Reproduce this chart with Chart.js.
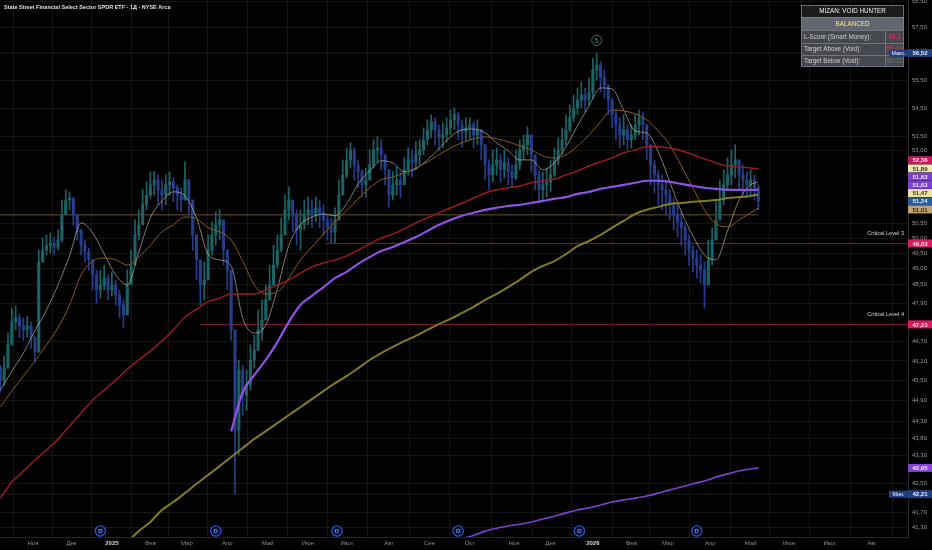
<!DOCTYPE html>
<html>
<head>
<meta charset="utf-8">
<script src="https://cdn.jsdelivr.net/npm/chart.js@4.4.1/dist/chart.umd.min.js"></script>
<style>
  html, body { margin: 0; padding: 0; background: #000; }
  #xlfChart { display: block; background: #000; }
</style>
</head>
<body>
<canvas id="xlfChart" width="932" height="550"></canvas>
<script>
// Month ticks: session index of the first trading day of each month (0 = 1 Nov 2024)
const monthDays = [0, 20, 41, 61, 80, 101, 122, 143, 163, 185, 206, 227, 250, 269, 291, 311, 330, 352, 373, 393, 414, 436];
const monthLabels = ['Ноя', 'Дек', '2025', 'Фев', 'Мар', 'Апр', 'Май', 'Июн', 'Июл', 'Авг', 'Сен', 'Окт', 'Ноя', 'Дек', '2026', 'Фев', 'Мар', 'Апр', 'Май', 'Июн', 'Июл', 'Авг'];

// Price axis labels (log scale)
const yTicks = [58.5, 57.5, 55.5, 54.5, 53.5, 53.0, 50.5, 50.0, 49.5, 49.0, 48.5, 47.9, 46.7, 46.1, 45.5, 44.9, 44.3, 43.8, 43.3, 42.5, 41.7, 41.3];

// Candles: one every 2 sessions starting at session -17
const firstDay = -17;
const dayStep = 2;
const firstOpen = 45.90;
const closes = [
  45.52, 45.88, 46.59, 47.31, 47.43, 47.18, 47.06, 47.18, 46.81, 46.37,
  49.22, 49.61, 49.77, 49.84, 49.71, 49.94, 50.78, 51.28, 51.35, 50.78,
  50.28, 49.77, 49.55, 49.29, 48.80, 48.32, 48.48, 48.70, 48.32, 48.48,
  48.16, 47.84, 47.53, 48.48, 49.12, 50.11, 50.45, 51.12, 51.45, 51.80,
  51.97, 51.63, 51.45, 51.80, 51.90, 51.70, 51.45, 51.28, 51.97, 51.28,
  50.11, 49.29, 48.48, 48.64, 49.61, 50.11, 50.45, 50.61, 49.61, 48.96,
  47.06, 44.04, 45.82, 45.07, 45.37, 46.13, 46.43, 47.06, 47.37, 48.00,
  48.48, 49.12, 49.61, 50.11, 50.95, 51.28, 50.78, 50.28, 50.45, 50.78,
  50.95, 50.78, 51.02, 50.85, 50.61, 50.35, 50.21, 50.61, 51.45, 52.14,
  52.66, 53.01, 52.49, 52.25, 51.80, 51.97, 52.49, 53.01, 53.08, 52.84,
  52.32, 51.45, 51.80, 51.97, 51.80, 52.32, 52.66, 52.59, 52.84, 53.01,
  53.37, 53.72, 54.01, 53.72, 53.44, 53.54, 53.79, 54.08, 54.26, 53.90,
  53.65, 53.79, 53.90, 53.54, 53.72, 53.19, 52.49, 52.14, 52.49, 52.66,
  52.32, 52.56, 52.25, 52.04, 52.49, 53.01, 53.19, 53.54, 52.84, 52.14,
  51.63, 51.80, 51.90, 52.14, 52.66, 53.01, 53.37, 53.72, 54.15, 54.50,
  54.79, 54.97, 54.79, 55.08, 55.89, 56.07, 55.60, 55.34, 54.79, 54.26,
  53.90, 53.54, 53.72, 53.37, 53.54, 53.90, 54.15, 53.90, 53.19, 52.49,
  52.14, 51.80, 51.63, 51.45, 51.12, 50.78, 50.55, 50.35, 49.94, 49.61,
  49.35, 49.12, 48.96, 48.48, 49.29, 49.94, 50.61, 51.28, 51.80, 52.14,
  52.49, 52.66, 52.14, 51.97, 51.80, 51.97, 51.70, 51.24
];
const highs = [
  45.97, 46.25, 46.96, 47.74, 47.81, 47.56, 47.43, 47.49, 47.31, 46.87,
  49.61, 50.01, 50.11, 50.18, 50.04, 50.28, 51.28, 51.63, 51.56, 51.28,
  50.78, 50.28, 49.94, 49.68, 49.29, 48.96, 48.96, 49.12, 48.80, 48.90,
  48.64, 48.32, 48.00, 48.96, 49.61, 50.61, 50.95, 51.63, 51.90, 52.25,
  52.25, 52.14, 51.97, 52.14, 52.25, 52.04, 51.80, 51.70, 52.59, 51.80,
  50.95, 49.94, 49.12, 49.22, 50.11, 50.55, 50.88, 50.95, 50.45, 49.45,
  48.80, 44.92, 46.13, 45.97, 45.82, 46.59, 46.90, 47.68, 48.00, 48.48,
  49.12, 49.77, 50.11, 50.68, 51.45, 51.73, 51.28, 50.95, 50.95, 51.28,
  51.38, 51.28, 51.38, 51.28, 51.12, 50.78, 50.68, 51.02, 51.97, 52.66,
  53.08, 53.26, 53.08, 52.66, 52.32, 52.38, 53.01, 53.37, 53.47, 53.37,
  52.84, 52.32, 52.25, 52.42, 52.25, 52.73, 53.08, 53.01, 53.30, 53.37,
  53.79, 54.08, 54.26, 54.15, 53.90, 53.97, 54.15, 54.43, 54.50, 54.33,
  54.08, 54.15, 54.15, 54.01, 54.08, 53.72, 53.19, 52.66, 53.01, 53.08,
  52.84, 53.01, 52.73, 52.49, 53.01, 53.37, 53.54, 53.83, 53.54, 52.84,
  52.32, 52.25, 52.38, 52.66, 53.08, 53.44, 53.79, 54.26, 54.61, 54.97,
  55.23, 55.45, 55.23, 55.60, 56.33, 56.52, 56.19, 55.89, 55.34, 54.86,
  54.43, 54.15, 54.26, 53.90, 53.90, 54.26, 54.43, 54.36, 53.79, 53.19,
  52.66, 52.32, 52.14, 51.97, 51.63, 51.35, 51.12, 50.88, 50.45, 50.11,
  49.77, 49.61, 49.45, 49.22, 49.94, 50.35, 51.28, 51.97, 52.32, 52.73,
  53.01, 53.19, 52.66, 52.49, 52.25, 52.32, 52.14, 51.80
];
const lows = [
  45.16, 45.37, 46.07, 46.74, 47.06, 46.81, 46.74, 46.84, 46.49, 46.07,
  46.37, 49.22, 49.45, 49.51, 49.45, 49.61, 49.87, 50.88, 50.95, 50.45,
  49.94, 49.45, 49.22, 48.96, 48.32, 47.90, 48.06, 48.32, 48.00, 48.13,
  47.84, 47.43, 47.12, 48.00, 48.64, 49.45, 49.94, 50.61, 50.95, 51.35,
  51.45, 51.12, 50.95, 51.12, 51.45, 51.22, 50.95, 50.88, 51.28, 50.78,
  49.61, 48.64, 47.84, 48.00, 48.96, 49.45, 49.77, 49.94, 49.12, 48.32,
  46.74, 42.21, 43.32, 44.48, 44.62, 45.22, 45.88, 46.43, 46.74, 47.37,
  48.00, 48.64, 49.03, 49.55, 50.21, 50.61, 50.21, 49.77, 49.61, 50.28,
  50.45, 50.35, 50.55, 50.35, 50.11, 49.94, 49.84, 49.84, 50.78, 51.45,
  52.04, 52.38, 51.97, 51.70, 51.38, 51.38, 51.97, 52.38, 52.59, 52.32,
  51.80, 51.05, 51.28, 51.45, 51.35, 51.80, 52.14, 52.07, 52.32, 52.49,
  52.84, 53.19, 53.44, 53.19, 53.01, 53.08, 53.30, 53.54, 53.72, 53.37,
  53.12, 53.30, 53.37, 53.08, 53.19, 52.66, 51.97, 51.63, 51.90, 52.14,
  51.87, 52.04, 51.80, 51.70, 51.97, 52.32, 52.66, 52.84, 52.25, 51.63,
  51.18, 51.28, 51.38, 51.56, 52.07, 52.49, 52.84, 53.19, 53.65, 54.01,
  54.26, 54.50, 54.36, 54.61, 54.86, 55.52, 55.08, 54.86, 54.26, 53.79,
  53.37, 53.08, 53.19, 53.01, 53.08, 53.37, 53.54, 53.37, 52.66, 51.80,
  51.52, 51.12, 50.95, 50.78, 50.61, 50.28, 50.04, 49.77, 49.45, 49.12,
  48.90, 48.70, 48.54, 47.74, 48.48, 49.12, 49.94, 50.61, 51.12, 51.63,
  51.80, 52.04, 51.63, 51.45, 51.35, 51.45, 51.28, 50.95
];

// Moving averages, read every 3rd candle (last point = last candle)
const maRed = [
  42.10, 42.55, 42.86, 43.17, 43.46, 43.78, 44.16, 44.54, 44.92, 45.22,
  45.52, 45.85, 46.13, 46.40, 46.71, 47.06, 47.46, 47.71, 47.94, 48.06,
  48.19, 48.19, 48.19, 48.32, 48.48, 48.64, 48.86, 49.06, 49.19, 49.29,
  49.42, 49.61, 49.81, 50.01, 50.14, 50.31, 50.51, 50.68, 50.85, 51.02,
  51.18, 51.35, 51.52, 51.63, 51.70, 51.76, 51.87, 51.94, 52.00, 52.14,
  52.28, 52.45, 52.59, 52.73, 52.91, 53.01, 53.12, 53.12, 53.08, 52.98,
  52.84, 52.70, 52.56, 52.45, 52.42, 52.38, 52.36
];
const maPurple = [
  null, null, null, null, null, null, null, null, null, null,
  null, null, null, null, null, null, null, null, null, null,
  44.00, 45.16, 45.67, 46.13, 46.68, 47.31, 47.84, 48.13, 48.41, 48.70,
  48.90, 49.16, 49.38, 49.58, 49.71, 49.87, 50.04, 50.24, 50.45, 50.61,
  50.75, 50.85, 50.95, 51.02, 51.08, 51.12, 51.18, 51.25, 51.32, 51.38,
  51.49, 51.56, 51.66, 51.73, 51.80, 51.87, 51.94, 51.94, 51.90, 51.83,
  51.76, 51.70, 51.66, 51.63, 51.63, 51.63, 51.63
];
const maOlive = [
  null, null, null, null, null, null, null, null, null, null,
  null, 40.90, 41.19, 41.44, 41.77, 41.99, 42.24, 42.50, 42.75, 43.00,
  43.26, 43.52, 43.78, 44.01, 44.24, 44.48, 44.71, 44.95, 45.19, 45.43,
  45.64, 45.88, 46.13, 46.34, 46.53, 46.71, 46.87, 47.06, 47.24, 47.40,
  47.59, 47.78, 48.00, 48.19, 48.41, 48.64, 48.90, 49.09, 49.25, 49.48,
  49.74, 49.91, 50.11, 50.35, 50.58, 50.81, 50.95, 51.05, 51.15, 51.18,
  51.22, 51.25, 51.28, 51.35, 51.38, 51.42, 51.47
];
const maBeige = [
  45.22, 45.79, 46.34, 47.03, 47.68, 48.48, 49.42, 50.51, 50.18, 49.48,
  48.80, 48.48, 49.55, 50.68, 51.25, 51.56, 51.42, 50.68, 49.48, 49.29,
  49.09, 47.43, 46.96, 47.21, 48.35, 49.77, 50.45, 50.71, 50.81, 50.75,
  51.15, 51.83, 52.28, 52.63, 52.56, 52.25, 52.35, 52.66, 53.05, 53.47,
  53.72, 53.75, 53.61, 53.26, 52.98, 52.66, 52.66, 52.32, 52.56, 53.12,
  53.86, 54.58, 55.23, 55.19, 54.43, 53.68, 53.61, 52.94, 51.90, 50.88,
  50.08, 49.45, 49.29, 50.24, 51.28, 51.80, 51.89
];
const maOrange = [
  44.71, 45.19, 45.64, 46.10, 46.59, 47.12, 47.84, 48.80, 49.25, 49.35,
  49.29, 49.12, 49.38, 49.77, 50.21, 50.45, 50.71, 50.65, 50.35, 50.21,
  49.94, 49.25, 48.48, 48.19, 48.25, 48.70, 49.29, 49.71, 50.14, 50.55,
  50.92, 51.32, 51.70, 51.97, 52.07, 52.21, 52.38, 52.59, 52.84, 53.08,
  53.26, 53.40, 53.47, 53.40, 53.30, 53.15, 53.01, 52.80, 52.73, 52.84,
  53.15, 53.54, 54.01, 54.43, 54.40, 54.29, 54.08, 53.68, 53.19, 52.45,
  51.70, 50.95, 50.48, 50.38, 50.61, 50.85, 51.01
];
const maLower = [
  null, null, null, null, null, null, null, null, null, null,
  null, null, null, null, null, null, null, null, null, null,
  null, null, null, null, null, null, null, null, null, null,
  null, null, null, null, null, null, null, null, null, null,
  40.99, 41.07, 41.19, 41.27, 41.33, 41.38, 41.44, 41.52, 41.60, 41.69,
  41.77, 41.83, 41.91, 41.99, 42.05, 42.10, 42.16, 42.24, 42.33, 42.41,
  42.50, 42.58, 42.69, 42.78, 42.86, 42.92, 42.95
];

// Horizontal levels
const levelNames = ['Critical Level 3', 'Critical Level 4'];
const levelValues = [49.83, 47.23];
const levelStartDays = [152, 87];
const pivotLevel = 50.78;

// Markers
const dividendDays = [35, 95, 158, 221, 284, 345];
const waveDay = 293;
const wavePrice = 57.0;

// Indicator panel
const panelTitle = 'MİZAN: VOID HUNTER';
const panelState = 'BALANCED';
const panelRows = ['L-Score (Smart Money):', 'Target Above (Void):', 'Target Below (Void):'];
const panelValues = ['45.2', '55.49', '50.02'];

const X_MIN = -17.15, X_MAX = 454.8;
const Y_MIN = 41.03, Y_MAX = 58.54;

const UP = '#1a6466';
const DOWN = '#263e8a';

const candleDays = closes.map((c, k) => firstDay + dayStep * k);
const opens = closes.map((c, k) => k ? closes[k - 1] : firstOpen);
const candleColors = closes.map((c, k) => c >= opens[k] ? UP : DOWN);
const maDays = maRed.map((v, j) => candleDays[Math.min(3 * j, closes.length - 1)]);
const lastDay = candleDays[candleDays.length - 1];
const last = arr => arr[arr.length - 1];
const maxHigh = Math.max(...highs);
const minLow = Math.min(...lows);

const isYear = v => {
  const i = monthDays.indexOf(v);
  return i >= 0 && /^\d/.test(monthLabels[i]);
};

function maLine(values, color, width) {
  return {
    type: 'line',
    data: values.map((v, j) => ({ x: maDays[j], y: v })),
    borderColor: color,
    borderWidth: width,
    pointRadius: 0,
    cubicInterpolationMode: 'monotone',
    spanGaps: false,
    order: 1
  };
}

function flatLine(value, from, to, color, width) {
  return {
    type: 'line',
    data: [{ x: from, y: value }, { x: to, y: value }],
    borderColor: color,
    borderWidth: width,
    pointRadius: 0,
    order: 8
  };
}

const fmt = v => Number(v).toFixed(2).replace('.', ',');

const overlay = {
  id: 'overlay',
  afterDatasetsDraw(chart) {
    const { ctx, scales: { x, y }, chartArea } = chart;
    ctx.save();
    ctx.textBaseline = 'middle';

    // level captions
    ctx.font = '5.6px "Liberation Sans", sans-serif';
    ctx.fillStyle = '#d4d4d4';
    ctx.textAlign = 'right';
    levelValues.forEach((v, i) => {
      ctx.fillText(levelNames[i], chartArea.right - 4, y.getPixelForValue(v) - 10);
    });

    // wave label
    const wx = x.getPixelForValue(waveDay), wy = y.getPixelForValue(wavePrice);
    ctx.strokeStyle = '#2c8a78';
    ctx.lineWidth = 0.9;
    ctx.beginPath();
    ctx.arc(wx, wy, 5, 0, Math.PI * 2);
    ctx.stroke();
    ctx.fillStyle = '#2f9c86';
    ctx.textAlign = 'center';
    ctx.font = '7px "Liberation Sans", sans-serif';
    ctx.fillText('5', wx, wy + 0.5);

    // dividend markers
    dividendDays.forEach(d => {
      const cx = x.getPixelForValue(d), cy = chartArea.bottom - 6;
      ctx.fillStyle = '#07112e';
      ctx.strokeStyle = '#2f5fe0';
      ctx.lineWidth = 1.1;
      ctx.beginPath();
      ctx.arc(cx, cy, 5.2, 0, Math.PI * 2);
      ctx.fill();
      ctx.stroke();
      ctx.fillStyle = '#6d8cf5';
      ctx.font = 'bold 6px "Liberation Sans", sans-serif';
      ctx.fillText('D', cx, cy + 0.5);
    });
    ctx.restore();
  },
  afterDraw(chart) {
    const { ctx, scales: { y }, chartArea } = chart;
    ctx.save();
    ctx.textBaseline = 'middle';

    // title
    ctx.font = '600 5.5px "Liberation Sans", sans-serif';
    ctx.fillStyle = '#e0e0e0';
    ctx.textAlign = 'left';
    ctx.fillText('State Street Financial Select Sector SPDR ETF · 1Д · NYSE Arca', 4, 7);

    // indicator panel
    const px = 801, pw = 103, colX = 885;
    const rowTops = [5, 17, 30, 43, 55, 67];
    ctx.fillStyle = '#1b1b1b';
    ctx.fillRect(px, rowTops[0], pw, rowTops[1] - rowTops[0]);
    ctx.fillStyle = '#62666f';
    ctx.fillRect(px, rowTops[1], pw, rowTops[2] - rowTops[1]);
    ctx.fillStyle = '#45484f';
    ctx.fillRect(px, rowTops[2], pw, rowTops[5] - rowTops[2]);
    ctx.strokeStyle = '#7d8089';
    ctx.lineWidth = 0.8;
    ctx.strokeRect(px + 0.5, rowTops[0] + 0.5, pw - 1, rowTops[5] - rowTops[0] - 1);
    for (let r = 1; r < 5; r++) {
      ctx.beginPath();
      ctx.moveTo(px, rowTops[r] + 0.5);
      ctx.lineTo(px + pw, rowTops[r] + 0.5);
      ctx.stroke();
    }
    ctx.beginPath();
    ctx.moveTo(colX + 0.5, rowTops[2]);
    ctx.lineTo(colX + 0.5, rowTops[5]);
    ctx.stroke();
    ctx.font = '6.3px "Liberation Sans", sans-serif';
    ctx.textAlign = 'center';
    ctx.fillStyle = '#f0f0f0';
    ctx.fillText(panelTitle, px + pw / 2, (rowTops[0] + rowTops[1]) / 2 + 0.5);
    ctx.fillStyle = '#f2e29a';
    ctx.fillText(panelState, px + pw / 2, (rowTops[1] + rowTops[2]) / 2 + 0.5);
    const valColors = ['#e8336b', '#e8336b', '#5e8a74'];
    panelRows.forEach((t, i) => {
      const cy = (rowTops[i + 2] + rowTops[i + 3]) / 2 + 0.5;
      ctx.textAlign = 'left';
      ctx.fillStyle = '#cfcfcf';
      ctx.fillText(t, px + 3, cy);
      ctx.textAlign = 'center';
      ctx.fillStyle = valColors[i];
      ctx.fillText(panelValues[i], (colX + px + pw) / 2, cy);
    });

    // price tags on the right axis; the last-price tag stays put, others move away from it
    const tags = [
      { v: last(maRed), bg: '#c8195c', fg: '#ffe0ea' },
      { v: last(maBeige), bg: '#efe6b0', fg: '#3b3420' },
      { v: last(maPurple), bg: '#7b3fd2', fg: '#efe6ff' },
      { v: last(maPurple), bg: '#7b3fd2', fg: '#efe6ff' },
      { v: last(maOlive), bg: '#ece2a2', fg: '#3b3420' },
      { v: last(closes), bg: '#2b5d9c', fg: '#dde8ff', anchor: true },
      { v: last(maOrange), bg: '#c0a273', fg: '#2a2010' },
      { v: levelValues[0], bg: '#d81b60', fg: '#ffe0ea' },
      { v: levelValues[1], bg: '#d81b60', fg: '#ffe0ea' },
      { v: last(maLower), bg: '#8b45d6', fg: '#efe6ff' },
      { v: maxHigh, bg: '#1f3f7d', fg: '#e8eeff', label: 'Макс.' },
      { v: minLow, bg: '#1f3f7d', fg: '#e8eeff', label: 'Мин.' }
    ];
    tags.forEach(t => { t.py = y.getPixelForValue(t.v); });
    tags.sort((a, b) => a.py - b.py);
    const h = 8.2;
    const a = tags.findIndex(t => t.anchor);
    for (let i = a - 1; i >= 0; i--) tags[i].py = Math.min(tags[i].py, tags[i + 1].py - h);
    for (let i = a + 1; i < tags.length; i++) tags[i].py = Math.max(tags[i].py, tags[i - 1].py + h);
    const ax = chartArea.right;
    tags.forEach(t => {
      ctx.fillStyle = t.bg;
      ctx.fillRect(ax, t.py - 4, 932 - ax, 8);
      if (t.label) {
        ctx.fillRect(ax - 19, t.py - 3.5, 19, 7);
        ctx.fillStyle = t.fg;
        ctx.textAlign = 'center';
        ctx.font = '5.4px "Liberation Sans", sans-serif';
        ctx.fillText(t.label, ax - 9.5, t.py + 0.5);
      }
      ctx.fillStyle = t.fg;
      ctx.textAlign = 'center';
      ctx.font = 'bold 6px "Liberation Sans", sans-serif';
      ctx.fillText(fmt(t.v), ax + 12, t.py + 0.5);
    });
    ctx.restore();
  }
};

const ctx = document.getElementById('xlfChart').getContext('2d');

new Chart(ctx, {
  type: 'bar',
  data: {
    datasets: [
      flatLine(maxHigh, X_MIN, X_MAX, '#222222', 1),
      flatLine(minLow, X_MIN, X_MAX, '#1c1c1c', 1),
      flatLine(pivotLevel, firstDay, lastDay, 'rgba(140,112,58,0.75)', 1),
      flatLine(levelValues[0], levelStartDays[0], X_MAX, '#8a1438', 1),
      flatLine(levelValues[1], levelStartDays[1], X_MAX, '#8a1438', 1),
      {
        data: candleDays.map((d, k) => ({ x: d, y: [Math.min(lows[k], opens[k], closes[k]), Math.max(highs[k], opens[k], closes[k])] })),
        backgroundColor: candleColors,
        barThickness: 1,
        grouped: false,
        order: 6
      },
      {
        data: candleDays.map((d, k) => ({ x: d, y: [opens[k], closes[k]] })),
        backgroundColor: candleColors,
        barThickness: 2.4,
        minBarLength: 1,
        grouped: false,
        order: 5
      },
      maLine(maLower, '#7d42cf', 1.6),
      maLine(maOlive, '#837a2a', 2),
      maLine(maRed, '#9e1b22', 1.4),
      maLine(maPurple, '#8e52e6', 2.2),
      maLine(maOrange, '#8a5a1e', 1),
      maLine(maBeige, 'rgba(200,192,170,0.8)', 0.8)
    ]
  },
  options: {
    responsive: false,
    animation: false,
    layout: { padding: 0, autoPadding: false },
    plugins: { legend: { display: false }, tooltip: { enabled: false } },
    scales: {
      x: {
        type: 'linear',
        min: X_MIN,
        max: X_MAX,
        offset: false,
        afterBuildTicks: s => { s.ticks = monthDays.map(v => ({ value: v })); },
        afterFit: s => { s.height = 13; s.paddingLeft = 0; s.paddingRight = 0; },
        grid: { color: '#141414', drawTicks: false },
        border: { color: '#262626' },
        ticks: {
          autoSkip: false,
          maxRotation: 0,
          padding: 3,
          color: c => (c.tick && isYear(c.tick.value)) ? '#d8d8d8' : '#8c8c8c',
          font: c => ({ size: 6, family: 'Liberation Sans', weight: (c.tick && isYear(c.tick.value)) ? 'bold' : 'normal' }),
          callback: v => monthLabels[monthDays.indexOf(v)]
        }
      },
      y: {
        type: 'logarithmic',
        position: 'right',
        min: Y_MIN,
        max: Y_MAX,
        afterBuildTicks: s => { s.ticks = yTicks.map(v => ({ value: v })); },
        afterFit: s => { s.width = 24; s.paddingTop = 0; s.paddingBottom = 0; },
        grid: { color: '#141414', drawTicks: false },
        border: { color: '#262626' },
        ticks: {
          padding: 4,
          color: '#9a9a9a',
          font: { size: 6, family: 'Liberation Sans' },
          callback: v => fmt(v)
        }
      }
    }
  },
  plugins: [overlay]
});
</script>
</body>
</html>
